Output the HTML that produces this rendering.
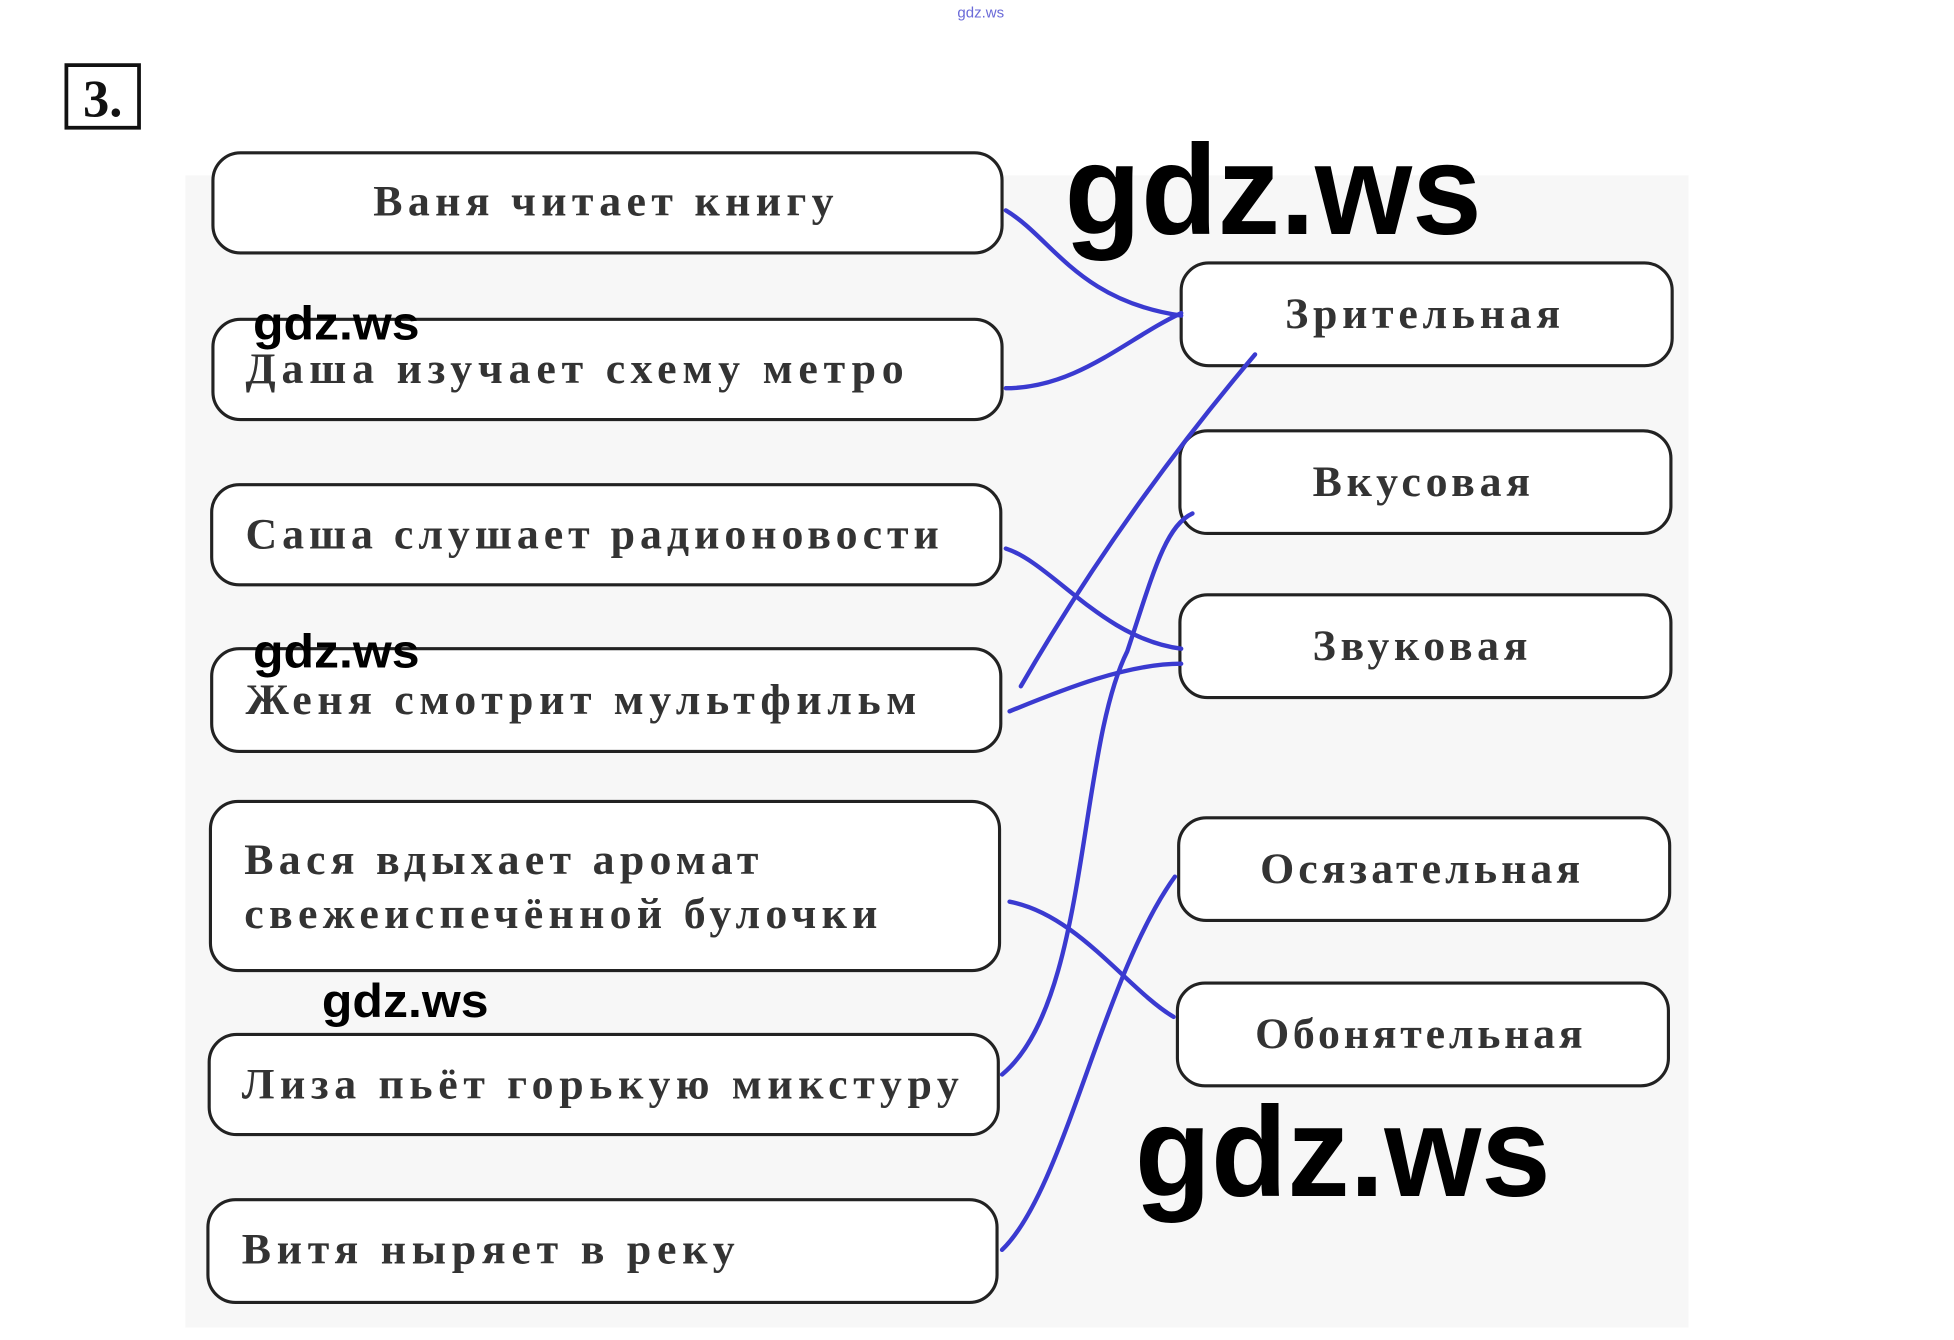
<!DOCTYPE html>
<html><head><meta charset="utf-8"><style>
html,body{margin:0;padding:0;background:#fff;}
svg{display:block}
.t{font-family:"Liberation Serif","DejaVu Serif",serif;font-size:35px;font-weight:bold;fill:#333;letter-spacing:4.5px}
.w{font-family:"Liberation Sans","DejaVu Sans",sans-serif;font-weight:bold;fill:#000}
</style></head><body>
<svg width="1954" height="1340" viewBox="0 0 1560 1070" preserveAspectRatio="none" xmlns="http://www.w3.org/2000/svg">
<rect x="148" y="140" width="1200" height="920" fill="#f7f7f7"/>
<text x="783" y="14" font-size="12" fill="#6a6ad8" text-anchor="middle" font-family="Liberation Sans,sans-serif">gdz.ws</text>
<rect x="53" y="52" width="58" height="50" fill="none" stroke="#111" stroke-width="3"/>
<text x="82" y="93" text-anchor="middle" font-family="Liberation Serif,serif" font-weight="bold" font-size="42" fill="#111">3.</text>
<g fill="#fff" stroke="#222" stroke-width="2.5">
<rect x="170" y="122" width="630" height="80" rx="22"/>
<rect x="170" y="255" width="630" height="80" rx="22"/>
<rect x="169" y="387" width="630" height="80" rx="22"/>
<rect x="169" y="518" width="630" height="82" rx="22"/>
<rect x="168" y="640" width="630" height="135" rx="22"/>
<rect x="167" y="826" width="630" height="80" rx="22"/>
<rect x="166" y="958" width="630" height="82" rx="22"/>
<rect x="943" y="210" width="392" height="82" rx="22"/>
<rect x="942" y="344" width="392" height="82" rx="22"/>
<rect x="942" y="475" width="392" height="82" rx="22"/>
<rect x="941" y="653" width="392" height="82" rx="22"/>
<rect x="940" y="785" width="392" height="82" rx="22"/>
</g>
<g class="t">
<text x="298" y="172" textLength="372">Ваня читает книгу</text>
<text x="196" y="306" textLength="530">Даша изучает схему метро</text>
<text x="196" y="438" textLength="558">Саша слушает радионовости</text>
<text x="196" y="570" textLength="540">Женя смотрит мультфильм</text>
<text x="195" y="698" textLength="415">Вася вдыхает аромат</text>
<text x="195" y="741" textLength="510">свежеиспечённой булочки</text>
<text x="193" y="877" textLength="577">Лиза пьёт горькую микстуру</text>
<text x="193" y="1009" textLength="398">Витя ныряет в реку</text>
<text x="1026" y="262" textLength="224">Зрительная</text>
<text x="1048" y="396" textLength="178">Вкусовая</text>
<text x="1048" y="527" textLength="176">Звуковая</text>
<text x="1006" y="705" textLength="260">Осязательная</text>
<text x="1002" y="837" textLength="266">Обонятельная</text>
</g>
<g fill="none" stroke="#3a3ad0" stroke-width="3.5" stroke-linecap="round">
<path d="M803 168 C840 190 860 240 943 252"/>
<path d="M803 310 C860 310 900 270 943 250"/>
<path d="M803 438 C840 450 880 510 943 518"/>
<path d="M806 568 C850 550 900 530 943 530"/>
<path d="M815 548 C860 470 920 380 1002 283"/>
<path d="M806 720 C860 730 900 790 937 812"/>
<path d="M800 858 C870 800 860 600 900 520 C920 460 930 420 952 410"/>
<path d="M800 998 C850 950 880 780 938 700"/>
</g>
<text class="w" x="850" y="187" font-size="102" textLength="333" lengthAdjust="spacingAndGlyphs">gdz.ws</text>
<text class="w" x="906" y="955" font-size="102" textLength="332" lengthAdjust="spacingAndGlyphs">gdz.ws</text>
<text class="w" x="202" y="271" font-size="38" textLength="133" lengthAdjust="spacingAndGlyphs">gdz.ws</text>
<text class="w" x="202" y="533" font-size="38" textLength="133" lengthAdjust="spacingAndGlyphs">gdz.ws</text>
<text class="w" x="257" y="812" font-size="38" textLength="133" lengthAdjust="spacingAndGlyphs">gdz.ws</text>
</svg>
</body></html>
